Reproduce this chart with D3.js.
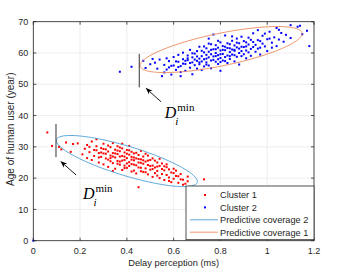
<!DOCTYPE html>
<html>
<head>
<meta charset="utf-8">
<script src="https://cdn.jsdelivr.net/npm/d3@7"></script>
<style>
  body { margin: 0; background: #fff; }
  text { font-family: "Liberation Sans", Arial, sans-serif; fill: #262626; }
  .grid line { stroke: #e6e6e6; stroke-width: 0.7; }
  .math { font-family: "Liberation Serif", "Times New Roman", serif; fill: #000; }
</style>
</head>
<body>
<svg id="chart" width="350" height="270"></svg>
<script>
// ---- data ----
var xTicks = [0, 0.2, 0.4, 0.6, 0.8, 1, 1.2];
var yTicks = [0, 10, 20, 30, 40, 50, 60, 70];

// Cluster 1 (red): [delay, age]
var cluster1 = [
  [0.06,34.6],[0.08,30.3],[0.11,30.0],[0.12,29.2],[0.14,31.4],[0.16,28.4],[0.17,30.9],[0.19,31.1],
  [0.21,27.6],[0.22,29.4],[0.23,30.6],[0.23,26.4],[0.24,28.3],[0.25,31.7],[0.25,25.8],[0.26,29.0],
  [0.26,27.1],[0.27,32.4],[0.27,30.2],[0.28,28.0],[0.28,25.0],[0.29,29.6],[0.29,26.8],[0.30,31.0],
  [0.30,27.9],[0.30,24.4],[0.31,29.2],[0.31,26.3],[0.32,30.4],[0.32,28.5],[0.32,23.6],[0.33,27.2],
  [0.33,25.4],[0.33,29.9],[0.34,28.0],[0.34,24.8],[0.34,31.2],[0.35,26.6],[0.35,29.1],[0.35,23.0],
  [0.36,27.7],[0.36,25.5],[0.36,30.2],[0.37,28.6],[0.37,24.3],[0.37,26.9],[0.38,29.5],[0.38,27.1],
  [0.38,22.6],[0.39,25.8],[0.39,28.2],[0.39,24.0],[0.40,26.4],[0.40,29.0],[0.40,23.3],[0.41,27.5],
  [0.41,25.1],[0.41,30.3],[0.42,24.5],[0.42,26.8],[0.42,28.4],[0.43,22.4],[0.43,25.7],[0.43,27.9],
  [0.44,24.1],[0.44,26.3],[0.44,21.5],[0.45,25.0],[0.45,27.4],[0.45,17.1],[0.46,23.3],[0.46,26.0],
  [0.46,28.7],[0.47,24.6],[0.47,22.0],[0.47,26.9],[0.48,25.3],[0.48,23.1],[0.49,27.2],[0.49,21.2],
  [0.49,24.2],[0.50,25.8],[0.50,22.7],[0.51,24.0],[0.51,20.4],[0.51,26.3],[0.52,23.4],[0.52,21.6],
  [0.53,25.0],[0.53,22.3],[0.54,20.0],[0.54,23.9],[0.55,21.3],[0.55,24.7],[0.56,22.5],[0.56,19.4],
  [0.57,23.5],[0.57,21.0],[0.58,20.2],[0.58,22.8],[0.59,18.7],[0.60,21.6],[0.60,19.8],[0.61,22.4],
  [0.62,20.6],[0.62,18.5],[0.63,21.3],[0.64,19.5],[0.65,18.2],[0.66,20.5],[0.73,19.6],
  [0.31,27.8],[0.33,26.4],[0.35,27.9],[0.36,24.6],[0.37,29.8],[0.38,25.6],[0.39,26.9],[0.40,24.7],
  [0.40,27.8],[0.41,23.9],[0.42,25.9],[0.43,24.3],[0.44,28.1],[0.45,23.4],[0.46,24.9],[0.47,25.7],
  [0.48,27.8],[0.48,21.9],[0.50,23.9],[0.52,25.6],[0.53,23.7],[0.55,22.9],[0.57,24.4],[0.59,21.8],
  [0.61,20.7],[0.63,19.6],[0.34,22.3],[0.28,26.6],[0.30,29.3],[0.27,28.9],[0.24,30.0],[0.38,31.0],
  [0.42,22.1],[0.54,26.2],[0.66,19.0],[0.64,17.9],
  [0.29,28.2],[0.32,25.9],[0.34,26.9],[0.36,28.8],[0.37,25.3],[0.39,23.2],[0.41,28.9],[0.43,26.6],
  [0.45,26.1],[0.46,22.2],[0.49,25.6],[0.51,22.9],[0.53,20.8],[0.56,23.8],[0.58,19.1],[0.60,23.0]
];

// Cluster 2 (blue): [delay, age]
var cluster2 = [
  [0,0],[0.37,54.0],[0.42,55.6],[0.47,57.5],[0.48,55.2],[0.50,56.4],[0.51,58.1],[0.52,56.9],
  [0.53,55.0],[0.54,57.9],[0.55,52.6],[0.56,56.2],[0.57,58.3],[0.58,55.4],[0.58,57.4],[0.59,53.1],
  [0.60,56.0],[0.60,58.7],[0.61,54.6],[0.62,57.2],[0.62,59.4],[0.63,55.8],[0.63,53.9],[0.64,58.0],
  [0.64,60.1],[0.65,56.5],[0.65,54.3],[0.66,57.7],[0.66,59.2],[0.67,55.3],[0.67,61.0],[0.68,57.0],
  [0.68,58.6],[0.68,53.2],[0.69,56.1],[0.69,59.8],[0.70,57.5],[0.70,55.0],[0.70,60.6],[0.71,58.2],
  [0.71,56.4],[0.71,62.0],[0.72,59.0],[0.72,54.6],[0.72,57.3],[0.73,60.2],[0.73,58.0],[0.73,55.7],
  [0.74,61.5],[0.74,59.4],[0.74,57.0],[0.75,56.0],[0.75,60.4],[0.75,58.6],[0.75,63.0],[0.76,59.6],
  [0.76,57.6],[0.76,55.1],[0.77,61.2],[0.77,58.9],[0.77,65.9],[0.78,60.0],[0.78,57.2],[0.78,62.5],
  [0.79,59.3],[0.79,56.5],[0.79,61.7],[0.80,58.4],[0.80,60.8],[0.80,63.4],[0.80,54.3],[0.81,59.7],
  [0.81,57.6],[0.81,62.2],[0.82,60.9],[0.82,58.7],[0.82,65.6],[0.83,61.6],[0.83,59.2],[0.83,56.8],
  [0.84,62.8],[0.84,60.3],[0.84,58.1],[0.85,61.1],[0.85,63.9],[0.85,59.5],[0.86,57.3],[0.86,62.4],
  [0.86,60.7],[0.87,64.6],[0.87,61.8],[0.87,58.8],[0.88,63.1],[0.88,60.0],[0.88,56.3],[0.89,62.0],
  [0.89,65.2],[0.90,59.6],[0.90,61.9],[0.90,63.8],[0.91,60.8],[0.91,58.3],[0.92,62.7],[0.92,64.9],
  [0.93,61.3],[0.93,59.1],[0.94,63.5],[0.94,66.3],[0.95,60.4],[0.95,62.6],[0.96,67.3],[0.96,64.1],
  [0.97,61.7],[0.97,59.5],[0.98,63.0],[0.98,65.5],[0.99,62.1],[1.00,64.4],[1.00,60.6],[1.01,66.8],
  [1.02,63.3],[1.03,65.0],[1.04,68.0],[1.04,62.2],[1.05,64.3],[1.06,66.4],[1.07,63.6],[1.08,65.8],
  [1.10,68.9],[1.10,64.8],[1.13,68.4],[1.14,68.7],[1.15,66.0],[1.17,67.1],[1.18,62.2],
  [0.66,58.3],[0.69,57.9],[0.72,60.7],[0.74,56.3],[0.76,61.0],[0.77,57.8],[0.78,59.0],[0.79,58.0],
  [0.80,57.1],[0.81,61.0],[0.82,57.4],[0.83,63.1],[0.84,59.0],[0.86,59.3],[0.87,63.3],[0.88,61.4],
  [0.89,59.0],[0.91,63.4],[0.92,60.2],[0.93,64.2],[0.70,58.9],[0.73,62.1],[0.67,56.8],[0.64,56.6],
  [0.61,57.3],[0.59,55.9],[0.57,54.7],[0.75,64.6],[0.79,63.9],[0.85,65.3],[0.96,61.4],[0.99,66.2],
  [1.02,61.7],[1.05,67.4],[0.56,53.8],[0.63,52.6],
  [0.68,59.9],[0.71,57.0],[0.74,58.2],[0.76,62.8],[0.78,61.2],[0.80,59.6],[0.82,62.0],[0.84,61.5],
  [0.86,61.0],[0.89,60.6],[0.91,62.1],[0.94,61.9],[0.97,63.8],[1.01,64.6],[0.65,57.5],[0.62,55.5]
];

// coverage ellipses: centre and two conjugate half-axes, in data units
var coverage2 = {center: [0.400, 25.46], a: [0.3016, -6.55], b: [0, 4.89]};
var coverage1 = {center: [0.803, 61.1], a: [0.3465, 5.11], b: [0, 5.3]};

// D_i^min markers: vertical segments [x, y0, y1]
var dminLines = [[0.097, 26.7, 37.3], [0.453, 49.0, 59.7]];
// arrows: [tailX, tailY, tipX, tipY]
var arrows = [[0.183, 21.0, 0.1155, 25.46], [0.546, 44.4, 0.48, 48.85]];
// labels: [x, y] of the D baseline
var dminLabels = [[0.212, 13.4], [0.562, 39.3]];

var legendItems = ["Cluster 1", "Cluster 2", "Predictive coverage 2", "Predictive coverage 1"];

// ---- chart ----
var svg = d3.select("#chart");
var box = {left: 33.3, right: 314, top: 21.7, bottom: 240.7};

var x = d3.scaleLinear().domain([0, 1.2]).range([box.left, box.right]);
var y = d3.scaleLinear().domain([0, 70]).range([box.bottom, box.top]);

var red = "#ff0000", blue = "#0000ff";
var c2col = "#4d9fd6", c1col = "#ea8a5c";

// grid
var grid = svg.append("g").attr("class", "grid");
grid.selectAll(".gx").data(xTicks).enter().append("line")
  .attr("x1", d => x(d)).attr("x2", d => x(d))
  .attr("y1", box.top).attr("y2", box.bottom);
grid.selectAll(".gy").data(yTicks).enter().append("line")
  .attr("x1", box.left).attr("x2", box.right)
  .attr("y1", d => y(d)).attr("y2", d => y(d));

// ellipses
function ellipsePath(e) {
  var pts = d3.range(0, 360, 3).map(function(deg) {
    var t = deg * Math.PI / 180;
    return [e.center[0] + e.a[0] * Math.cos(t) + e.b[0] * Math.sin(t),
            e.center[1] + e.a[1] * Math.cos(t) + e.b[1] * Math.sin(t)];
  });
  return d3.line().x(d => x(d[0])).y(d => y(d[1])).curve(d3.curveLinearClosed)(pts);
}

// points
svg.append("g").selectAll("rect").data(cluster1).enter().append("rect")
  .attr("x", d => x(d[0]) - 1).attr("y", d => y(d[1]) - 1)
  .attr("width", 2).attr("height", 2).attr("fill", red);
svg.append("g").selectAll("rect").data(cluster2).enter().append("rect")
  .attr("x", d => x(d[0]) - 1).attr("y", d => y(d[1]) - 1)
  .attr("width", 2).attr("height", 2).attr("fill", blue);

svg.append("path").attr("d", ellipsePath(coverage2))
  .attr("fill", "none").attr("stroke", c2col).attr("stroke-width", 0.9);
svg.append("path").attr("d", ellipsePath(coverage1))
  .attr("fill", "none").attr("stroke", c1col).attr("stroke-width", 0.9);

// D_i^min segments
svg.selectAll(".dmin").data(dminLines).enter().append("line")
  .attr("x1", d => x(d[0])).attr("x2", d => x(d[0]))
  .attr("y1", d => y(d[1])).attr("y2", d => y(d[2]))
  .attr("stroke", "#333").attr("stroke-width", 1);

// arrows
arrows.forEach(function(a) {
  var x0 = x(a[0]), y0 = y(a[1]), x1 = x(a[2]), y1 = y(a[3]);
  var ang = Math.atan2(y1 - y0, x1 - x0);
  var L = 7, W = 2.6;
  var bx = x1 - L * Math.cos(ang), by = y1 - L * Math.sin(ang);
  var nx = -Math.sin(ang), ny = Math.cos(ang);
  var mx = x1 - L * 0.7 * Math.cos(ang), my = y1 - L * 0.7 * Math.sin(ang);
  svg.append("line").attr("x1", x0).attr("y1", y0).attr("x2", mx).attr("y2", my)
    .attr("stroke", "#000").attr("stroke-width", 0.9);
  svg.append("path")
    .attr("d", "M" + x1 + "," + y1 + "L" + (bx + nx * W) + "," + (by + ny * W) +
      "L" + mx + "," + my + "L" + (bx - nx * W) + "," + (by - ny * W) + "Z")
    .attr("fill", "#000");
});

// D_i^min labels
dminLabels.forEach(function(p) {
  var px = x(p[0]), py = y(p[1]);
  var t = svg.append("text").attr("class", "math").attr("x", px).attr("y", py)
    .attr("font-size", 16).attr("font-style", "italic").text("D");
  var w = t.node().getComputedTextLength();
  svg.append("text").attr("class", "math").attr("x", px + w + 1).attr("y", py - 7)
    .attr("font-size", 11).text("min");
  svg.append("text").attr("class", "math").attr("x", px + w - 1).attr("y", py + 7)
    .attr("font-size", 11).attr("font-style", "italic").text("i");
});

// axes box
svg.append("rect").attr("x", box.left).attr("y", box.top)
  .attr("width", box.right - box.left).attr("height", box.bottom - box.top)
  .attr("fill", "none").attr("stroke", "#262626").attr("stroke-width", 0.8);

var tickLen = 3;
var ticks = svg.append("g").attr("stroke", "#262626").attr("stroke-width", 0.8);
xTicks.forEach(function(v) {
  ticks.append("line").attr("x1", x(v)).attr("x2", x(v)).attr("y1", box.bottom).attr("y2", box.bottom - tickLen);
  ticks.append("line").attr("x1", x(v)).attr("x2", x(v)).attr("y1", box.top).attr("y2", box.top + tickLen);
});
yTicks.forEach(function(v) {
  ticks.append("line").attr("x1", box.left).attr("x2", box.left + tickLen).attr("y1", y(v)).attr("y2", y(v));
  ticks.append("line").attr("x1", box.right).attr("x2", box.right - tickLen).attr("y1", y(v)).attr("y2", y(v));
});

svg.selectAll(".xtl").data(xTicks).enter().append("text")
  .attr("x", d => x(d)).attr("y", box.bottom + 13.5)
  .attr("text-anchor", "middle").attr("font-size", 9)
  .text(d => d3.format("~g")(d));
svg.selectAll(".ytl").data(yTicks).enter().append("text")
  .attr("x", box.left - 5).attr("y", d => y(d) + 3.2)
  .attr("text-anchor", "end").attr("font-size", 9)
  .text(d => d);

svg.append("text").attr("x", (box.left + box.right) / 2).attr("y", 266)
  .attr("text-anchor", "middle").attr("font-size", 9.3).text("Delay perception (ms)");
svg.append("text").attr("transform", "translate(13.5," + ((box.top + box.bottom) / 2 - 2) + ") rotate(-90)")
  .attr("text-anchor", "middle").attr("font-size", 10).text("Age of human user (year)");

// legend
var lgX = 186, lgY = 186;
var lg = svg.append("g").attr("transform", "translate(" + lgX + "," + lgY + ")");
lg.append("rect").attr("width", box.right - lgX).attr("height", box.bottom - lgY - 1)
  .attr("fill", "#fff").attr("stroke", "#262626").attr("stroke-width", 0.8);
legendItems.forEach(function(name, i) {
  var yy = 9 + i * 12.4;
  if (i < 2) {
    lg.append("rect").attr("x", 18).attr("y", yy - 1).attr("width", 2).attr("height", 2)
      .attr("fill", i === 0 ? red : blue);
  } else {
    lg.append("line").attr("x1", 4).attr("x2", 32).attr("y1", yy).attr("y2", yy)
      .attr("stroke", i === 2 ? c2col : c1col).attr("stroke-width", 0.9);
  }
  lg.append("text").attr("x", 34).attr("y", yy + 3.3).attr("font-size", 9.2).text(name);
});
</script>
</body>
</html>
